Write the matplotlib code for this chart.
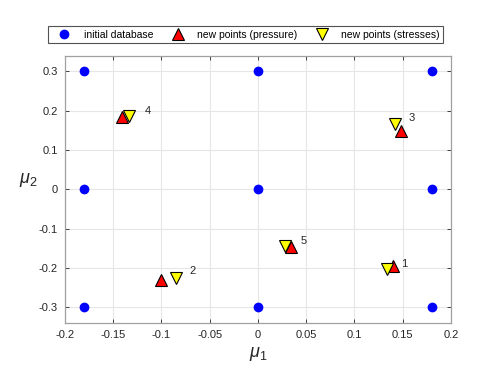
import matplotlib
matplotlib.use("Agg")
import matplotlib.pyplot as plt

plt.rcParams['font.family'] = ['Liberation Sans', 'DejaVu Sans']
plt.rcParams['mathtext.fontset'] = 'custom'
plt.rcParams['mathtext.it'] = 'Liberation Sans:italic'
plt.rcParams['mathtext.rm'] = 'Liberation Sans'

# initial database (grid of samples)
db_mu1 = [-0.18, -0.18, -0.18, 0.0, 0.0, 0.0, 0.18, 0.18, 0.18]
db_mu2 = [0.3, 0.0, -0.3, 0.3, 0.0, -0.3, 0.3, 0.0, -0.3]

# new points, numbered 1..5
pres_mu1 = [0.140, -0.100, 0.148, -0.141, 0.034]
pres_mu2 = [-0.195, -0.231, 0.147, 0.183, -0.147]
str_mu1 = [0.134, -0.085, 0.142, -0.134, 0.028]
str_mu2 = [-0.203, -0.226, 0.165, 0.187, -0.144]
point_ids = ['1', '2', '3', '4', '5']
id_mu1 = [0.152, -0.068, 0.159, -0.114, 0.047]
id_mu2 = [-0.190, -0.208, 0.180, 0.200, -0.131]

xticks = [-0.2, -0.15, -0.1, -0.05, 0, 0.05, 0.1, 0.15, 0.2]
xticklabels = ['-0.2', '-0.15', '-0.1', '-0.05', '0', '0.05', '0.1', '0.15', '0.2']
yticks = [-0.3, -0.2, -0.1, 0, 0.1, 0.2, 0.3]
yticklabels = ['-0.3', '-0.2', '-0.1', '0', '0.1', '0.2', '0.3']

fig = plt.figure(figsize=(4.98, 3.74), dpi=100)
ax = fig.add_axes([0.1305, 0.1364, 0.7751, 0.7152])

ax.plot(db_mu1, db_mu2, 'o', color='#0000ff', markersize=6, linestyle='none',
        label='initial database')
ax.plot(pres_mu1, pres_mu2, '^', markerfacecolor='#ff0000', markeredgecolor='black',
        markeredgewidth=0.8, markersize=8, linestyle='none', label='new points (pressure)')
ax.plot(str_mu1, str_mu2, 'v', markerfacecolor='#ffff00', markeredgecolor='black',
        markeredgewidth=0.8, markersize=8, linestyle='none', label='new points (stresses)')

for lab, x, y in zip(point_ids, id_mu1, id_mu2):
    ax.text(x, y, lab, fontsize=8, color='#262626', ha='center', va='center')

ax.set_xlim(-0.2, 0.2)
ax.set_ylim(-0.34, 0.34)
ax.set_xticks(xticks)
ax.set_xticklabels(xticklabels)
ax.set_yticks(yticks)
ax.set_yticklabels(yticklabels)
ax.grid(True, color='#e6e6e6', linewidth=0.8)
ax.set_axisbelow(True)
ax.tick_params(direction='in', length=3, width=0.6, labelsize=8, colors='#262626',
               top=True, right=True, pad=5)
for s in ax.spines.values():
    s.set_color('#a0a0a0')
    s.set_linewidth(0.9)

ax.set_xlabel(r'$\mu_1$', fontsize=13, color='#262626', labelpad=4)
ax.set_ylabel(r'$\mu_2$', fontsize=13, color='#262626', rotation=0, labelpad=12)
ax.yaxis.set_label_coords(-0.095, 0.5)

leg = fig.legend(loc='center', bbox_to_anchor=(0.0863, 0.882, 0.813, 0.051), ncol=3,
                 mode='expand', fontsize=7.5, frameon=True, fancybox=False,
                 borderpad=0.3, handletextpad=0.6, columnspacing=1.0, handlelength=2.5)
leg.get_frame().set_edgecolor('#262626')
leg.get_frame().set_linewidth(0.8)

fig.savefig('out.png', dpi=100)
